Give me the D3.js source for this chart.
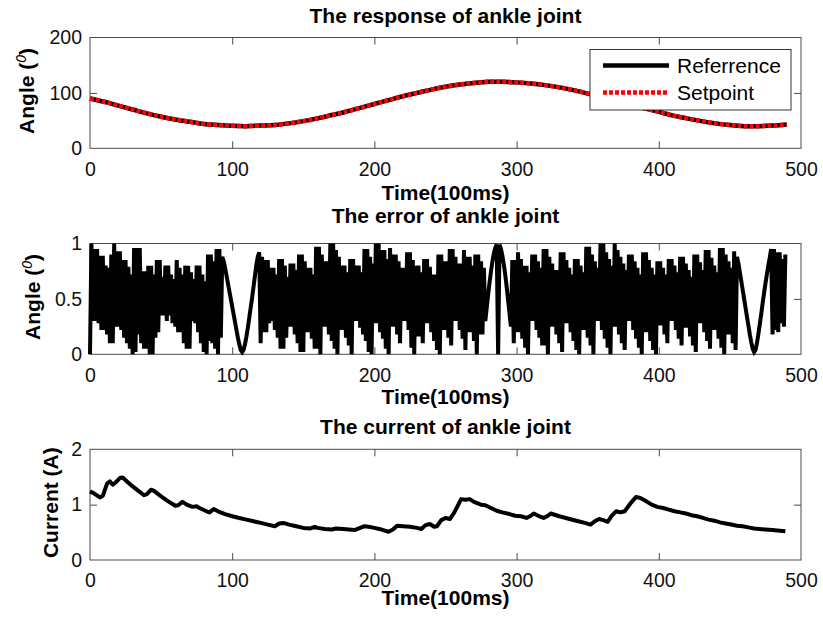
<!DOCTYPE html>
<html>
<head>
<meta charset="utf-8">
<script src="https://cdn.jsdelivr.net/npm/d3@7"></script>
<style>
  body { margin: 0; background: #fff; }
  svg { display: block; font-family: "Liberation Sans", Arial, sans-serif; }
</style>
</head>
<body>
<svg id="chart" width="823" height="622"></svg>
<script>
// ---- data ----
// ankle angle (deg), sampled every 10 x 100ms
var angleTime = d3.range(0, 500, 10);
var angleRef = [90, 84, 77, 70, 63, 57, 52, 48, 44, 42,
                40.5, 40, 41, 42, 45, 49, 54, 60, 66, 73,
                80, 87, 94, 100, 106, 111, 115, 118, 120, 120,
                119, 117, 114, 110, 105, 99, 93, 86, 79, 72,
                66, 59, 54, 49, 45, 42, 40, 40, 41, 43];
var angleSet = angleRef.slice();

// ankle error (deg): the signal flips every sample, so the even samples
// (t = 0,2,..,488) and the odd samples (t = 1,3,..,489) are kept apart
var errLow = [
  0.00, 0.30, 0.30, 0.28, 0.22, 0.22, 0.18, 0.10, 0.10, 0.25,   // t=0
  0.25, 0.22, 0.15, 0.10, 0.05, 0.00, 0.02, 0.18, 0.10, 0.05,   // t=20
  0.05, 0.00, 0.00, 0.15, 0.20, 0.35, 0.35, 0.30, 0.35, 0.28,   // t=40
  0.25, 0.20, 0.20, 0.10, 0.05, 0.05, 0.30, 0.28, 0.20, 0.10,   // t=60
  0.02, 0.00, 0.12, 0.10, 0.05, 0.00, 0.15, 0.84, 0.71, 0.57,   // t=80
  0.43, 0.29, 0.15, 0.04, 0.04, 0.16, 0.33, 0.51, 0.71, 0.88,   // t=100
  0.10, 0.20, 0.20, 0.28, 0.30, 0.22, 0.15, 0.05, 0.05, 0.15,   // t=120
  0.25, 0.25, 0.18, 0.10, 0.02, 0.02, 0.20, 0.20, 0.14, 0.05,   // t=140
  0.05, 0.00, 0.25, 0.25, 0.18, 0.12, 0.05, 0.00, 0.22, 0.22,   // t=160
  0.15, 0.08, 0.00, 0.30, 0.30, 0.24, 0.18, 0.12, 0.02, 0.00,   // t=180
  0.28, 0.28, 0.20, 0.14, 0.05, 0.00, 0.25, 0.25, 0.18, 0.10,   // t=200
  0.30, 0.30, 0.22, 0.06, 0.00, 0.16, 0.16, 0.10, 0.28, 0.28,   // t=220
  0.20, 0.12, 0.04, 0.00, 0.22, 0.22, 0.15, 0.08, 0.30, 0.30,   // t=240
  0.22, 0.14, 0.04, 0.20, 0.20, 0.12, 0.00, 0.18, 0.18, 0.30,   // t=260
  0.54, 0.75, 0.91, 0.99, 0.99, 0.89, 0.72, 0.49, 0.25, 0.10,   // t=280
  0.20, 0.20, 0.14, 0.06, 0.00, 0.30, 0.30, 0.22, 0.15, 0.08,   // t=300
  0.08, 0.00, 0.25, 0.25, 0.18, 0.10, 0.02, 0.28, 0.28, 0.20,   // t=320
  0.12, 0.04, 0.00, 0.22, 0.22, 0.15, 0.08, 0.00, 0.30, 0.30,   // t=340
  0.22, 0.14, 0.06, 0.00, 0.25, 0.25, 0.18, 0.10, 0.04, 0.30,   // t=360
  0.30, 0.22, 0.14, 0.06, 0.00, 0.20, 0.20, 0.12, 0.04, 0.00,   // t=380
  0.26, 0.26, 0.18, 0.10, 0.30, 0.30, 0.22, 0.14, 0.08, 0.24,   // t=400
  0.24, 0.16, 0.08, 0.02, 0.28, 0.28, 0.20, 0.12, 0.05, 0.22,   // t=420
  0.22, 0.14, 0.06, 0.00, 0.18, 0.18, 0.10, 0.04, 0.82, 0.66,   // t=440
  0.50, 0.34, 0.18, 0.05, 0.04, 0.18, 0.36, 0.55, 0.72, 0.87,   // t=460
  0.18, 0.22, 0.20, 0.28, 0.25                                  // t=480
];
var errHigh = [
  1.00, 0.95, 0.95, 0.89, 0.89, 0.80, 0.78, 0.90, 1.00, 0.93,   // t=1
  0.93, 0.85, 0.85, 0.79, 0.72, 0.96, 0.96, 0.96, 0.75, 0.75,   // t=21
  0.80, 0.80, 0.72, 0.85, 0.85, 0.70, 0.80, 0.80, 0.72, 0.68,   // t=41
  0.85, 0.78, 0.72, 0.80, 0.80, 0.74, 0.68, 0.80, 0.80, 0.72,   // t=61
  0.66, 0.90, 0.90, 0.84, 0.95, 0.95, 0.88, 0.78, 0.64, 0.50,   // t=81
  0.36, 0.22, 0.09, 0.02, 0.09, 0.24, 0.42, 0.61, 0.81, 0.92,   // t=101
  0.88, 0.85, 0.85, 0.78, 0.78, 0.72, 0.86, 0.86, 0.80, 0.70,   // t=121
  0.82, 0.82, 0.76, 0.90, 0.90, 0.84, 0.78, 0.78, 0.72, 0.97,   // t=141
  0.97, 0.90, 0.84, 0.84, 1.00, 1.00, 0.94, 0.88, 0.80, 0.80,   // t=161
  0.74, 0.86, 0.86, 0.80, 0.80, 0.74, 0.95, 0.95, 0.88, 0.82,   // t=181
  1.00, 1.00, 0.94, 0.94, 0.86, 0.96, 0.90, 0.90, 0.84, 0.78,   // t=201
  0.78, 0.92, 0.92, 0.85, 0.80, 0.80, 0.74, 0.86, 0.86, 0.79,   // t=221
  0.72, 0.72, 0.90, 0.90, 0.84, 0.84, 0.95, 0.95, 0.88, 0.82,   // t=241
  0.82, 0.94, 0.88, 0.88, 0.80, 0.90, 0.90, 0.84, 0.78, 0.42,   // t=261
  0.65, 0.84, 0.96, 0.00, 0.95, 0.81, 0.61, 0.37, 0.85, 0.85,   // t=281
  0.92, 0.86, 0.80, 0.80, 0.74, 0.90, 0.90, 0.84, 0.78, 0.95,   // t=301
  0.95, 0.88, 0.82, 0.76, 0.76, 0.92, 0.92, 0.85, 0.78, 0.72,   // t=321
  0.86, 0.86, 0.80, 0.74, 0.97, 0.97, 0.90, 0.84, 0.78, 1.00,   // t=341
  1.00, 0.92, 0.86, 0.80, 1.00, 0.94, 0.88, 0.82, 0.76, 0.90,   // t=361
  0.90, 0.84, 0.78, 0.72, 0.92, 0.92, 0.85, 0.78, 0.72, 0.84,   // t=381
  0.84, 0.78, 0.72, 0.86, 0.86, 0.80, 0.74, 0.88, 0.88, 0.82,   // t=401
  0.76, 0.70, 0.90, 0.90, 0.83, 0.76, 0.94, 0.94, 0.87, 0.80,   // t=421
  0.74, 0.96, 0.96, 0.90, 0.84, 0.78, 0.93, 0.88, 0.74, 0.58,   // t=441
  0.42, 0.26, 0.11, 0.02, 0.10, 0.27, 0.46, 0.64, 0.80, 0.95,   // t=461
  0.95, 0.92, 0.92, 0.86, 0.90                                  // t=481
];
var errVals = d3.merge(errLow.map(function(v, i) { return [v, errHigh[i]]; }));

// motor current (A)
var curTime = [0, 3, 7, 9, 12, 14, 16, 18, 21, 23, 26, 30, 34, 38, 40, 43, 45, 50, 55, 60,
               62, 65, 68, 72, 75, 77, 82, 84, 87, 90, 95, 100, 105, 110, 115, 120, 125, 130, 133, 136,
               140, 145, 150, 155, 158, 160, 165, 170, 173, 178, 182, 186, 190, 193, 196, 200, 205, 210, 213, 216,
               220, 225, 230, 233, 236, 239, 242, 244, 247, 250, 253, 256, 259, 261, 264, 267, 270, 275, 278, 282,
               286, 290, 295, 299, 303, 307, 310, 312, 316, 319, 322, 324, 330, 336, 342, 348, 352, 355, 358, 361,
               364, 367, 370, 373, 376, 380, 384, 387, 390, 395, 399, 403, 407, 411, 415, 419, 423, 427, 431, 435,
               439, 443, 447, 451, 455, 459, 463, 467, 471, 475, 480, 485, 489];
var curVals = [1.24, 1.20, 1.13, 1.16, 1.38, 1.42, 1.36, 1.40, 1.48, 1.49, 1.42, 1.33, 1.25, 1.17, 1.19, 1.27, 1.25, 1.15, 1.06, 0.98,
               0.99, 1.05, 1.00, 0.96, 0.97, 0.94, 0.88, 0.86, 0.92, 0.88, 0.83, 0.79, 0.76, 0.73, 0.70, 0.67, 0.64, 0.61, 0.66, 0.67,
               0.64, 0.61, 0.58, 0.57, 0.60, 0.58, 0.56, 0.55, 0.57, 0.56, 0.55, 0.54, 0.58, 0.61, 0.60, 0.58, 0.55, 0.51, 0.55, 0.62,
               0.61, 0.60, 0.58, 0.56, 0.63, 0.65, 0.60, 0.61, 0.72, 0.76, 0.74, 0.85, 1.00, 1.10, 1.09, 1.10, 1.05, 1.00, 0.99, 0.94,
               0.89, 0.86, 0.83, 0.80, 0.79, 0.76, 0.80, 0.84, 0.79, 0.76, 0.80, 0.84, 0.79, 0.75, 0.71, 0.67, 0.64, 0.70, 0.74, 0.72,
               0.69, 0.80, 0.88, 0.86, 0.88, 1.02, 1.14, 1.12, 1.08, 1.00, 0.96, 0.94, 0.91, 0.88, 0.86, 0.84, 0.81, 0.79, 0.76, 0.73,
               0.71, 0.68, 0.66, 0.64, 0.62, 0.61, 0.59, 0.57, 0.56, 0.55, 0.54, 0.53, 0.52];

var xTicks = [0, 100, 200, 300, 400, 500];
var legendNames = ["Referrence", "Setpoint"];

// ---- layout ----
var svg = d3.select("#chart");
var x = d3.scaleLinear().domain([0, 500]).range([90, 801]);
var axisColor = "#4a4a4a";

var panels = [
  {top: 37.5, bottom: 148.3, domain: [0, 200], ticks: [0, 100, 200], fmt: d3.format("d"),
   title: "The response of ankle joint", titleY: 22.5, xlabelY: 200, ylabel: "Angle", ylabelX: 34, sup: true},
  {top: 243.5, bottom: 354.3, domain: [0, 1], ticks: [0, 0.5, 1], fmt: function(d) { return String(d); },
   title: "The error of ankle joint", titleY: 222.5, xlabelY: 404, ylabel: "Angle", ylabelX: 40, sup: true},
  {top: 449.3, bottom: 560, domain: [0, 2], ticks: [0, 1, 2], fmt: d3.format("d"),
   title: "The current of ankle joint", titleY: 433.5, xlabelY: 605, ylabel: "Current (A)", ylabelX: 58, sup: false}
];

panels.forEach(function(p) {
  p.y = d3.scaleLinear().domain(p.domain).range([p.bottom, p.top]);
  var g = svg.append("g");

  // box
  g.append("rect")
    .attr("x", x.range()[0]).attr("y", p.top)
    .attr("width", x.range()[1] - x.range()[0]).attr("height", p.bottom - p.top)
    .attr("fill", "none").attr("stroke", axisColor).attr("stroke-width", 1);

  // ticks, pointing in on every side
  var bottom = g.append("g").attr("transform", "translate(0," + p.bottom + ")")
    .call(d3.axisBottom(x).tickValues(xTicks).tickSizeInner(-7).tickSizeOuter(0).tickPadding(13.5));
  var top = g.append("g").attr("transform", "translate(0," + p.top + ")")
    .call(d3.axisTop(x).tickValues(xTicks).tickSizeInner(-7).tickSizeOuter(0).tickFormat(""));
  var left = g.append("g").attr("transform", "translate(" + x.range()[0] + ",0)")
    .call(d3.axisLeft(p.y).tickValues(p.ticks).tickFormat(p.fmt).tickSizeInner(-7).tickSizeOuter(0).tickPadding(8));
  var right = g.append("g").attr("transform", "translate(" + x.range()[1] + ",0)")
    .call(d3.axisRight(p.y).tickValues(p.ticks).tickSizeInner(-7).tickSizeOuter(0).tickFormat(""));

  [bottom, top, left, right].forEach(function(a) {
    a.select(".domain").remove();
    a.selectAll(".tick line").attr("stroke", axisColor);
    a.selectAll(".tick text").attr("font-size", 19.5).attr("fill", "#111")
      .attr("font-family", "Liberation Sans, Arial, sans-serif");
  });
  // the extreme tick marks sit on the box edge, hide those
  [bottom, top].forEach(function(a) {
    a.selectAll(".tick line").filter(function(d) { return d === 0 || d === 500; }).remove();
  });
  [left, right].forEach(function(a) {
    a.selectAll(".tick line").filter(function(d) { return d === p.domain[0] || d === p.domain[1]; }).remove();
  });

  // labels
  var cx = (x.range()[0] + x.range()[1]) / 2;
  g.append("text").attr("x", cx).attr("y", p.titleY)
    .attr("text-anchor", "middle").attr("font-weight", "bold").attr("font-size", 21)
    .text(p.title);
  g.append("text").attr("x", cx).attr("y", p.xlabelY)
    .attr("text-anchor", "middle").attr("font-weight", "bold").attr("font-size", 21)
    .text("Time(100ms)");

  var yl = g.append("text")
    .attr("transform", "translate(" + p.ylabelX + "," + ((p.top + p.bottom) / 2 - 2) + ") rotate(-90)")
    .attr("text-anchor", "middle").attr("font-weight", "bold").attr("font-size", 21);
  if (p.sup) {
    yl.append("tspan").text(p.ylabel + " (");
    yl.append("tspan").attr("dy", -8).attr("font-size", 14).attr("font-weight", "normal")
      .attr("font-style", "italic").text("0");
    yl.append("tspan").attr("dy", 8).text(")");
  } else {
    yl.text(p.ylabel);
  }
});

// ---- panel 1: reference vs setpoint ----
var p1 = panels[0];
var angleLine = function(vals) {
  return d3.line()
    .x(function(d, i) { return x(angleTime[i]); })
    .y(function(d) { return p1.y(d); })
    .curve(d3.curveCatmullRom)(vals);
};
svg.append("path").attr("d", angleLine(angleRef))
  .attr("fill", "none").attr("stroke", "#000").attr("stroke-width", 4.5);
svg.append("path").attr("d", angleLine(angleSet))
  .attr("fill", "none").attr("stroke", "#ff0000").attr("stroke-width", 4.5)
  .attr("stroke-dasharray", "4,2");

// legend
var lg = svg.append("g").attr("transform", "translate(590,49.5)");
lg.append("rect").attr("width", 201).attr("height", 60.5)
  .attr("fill", "#fff").attr("stroke", "#333").attr("stroke-width", 1);
legendNames.forEach(function(name, i) {
  var ly = 16 + i * 27;
  lg.append("line").attr("x1", 13).attr("x2", 79).attr("y1", ly).attr("y2", ly)
    .attr("stroke", i === 0 ? "#000" : "#ff0000").attr("stroke-width", 4.5)
    .attr("stroke-dasharray", i === 0 ? null : "4,2");
  lg.append("text").attr("x", 87).attr("y", ly).attr("dy", "0.35em")
    .attr("font-size", 21).text(name);
});

// ---- panel 2: error ----
var p2 = panels[1];
svg.append("path")
  .attr("d", d3.line()
    .x(function(d, i) { return x(i); })
    .y(function(d) { return p2.y(d); })(errVals))
  .attr("fill", "none").attr("stroke", "#000").attr("stroke-width", 4)
  .attr("stroke-linejoin", "miter");

// ---- panel 3: current ----
var p3 = panels[2];
svg.append("path")
  .attr("d", d3.line()
    .x(function(d, i) { return x(curTime[i]); })
    .y(function(d) { return p3.y(d); })(curVals))
  .attr("fill", "none").attr("stroke", "#000").attr("stroke-width", 4)
  .attr("stroke-linejoin", "round");
</script>
</body>
</html>
